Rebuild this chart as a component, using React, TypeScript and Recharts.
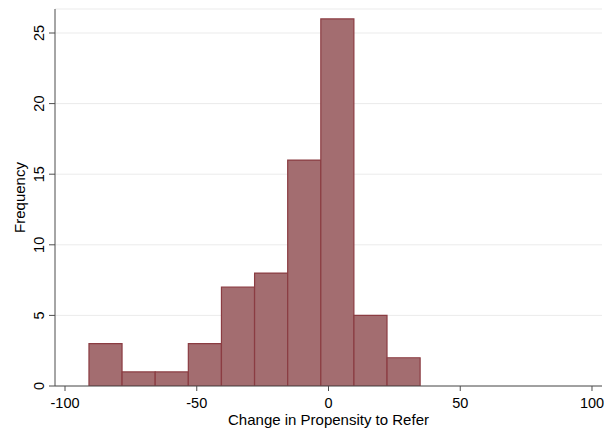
import { BarChart, Bar, XAxis, YAxis, CartesianGrid } from "recharts";

// bin centres and counts
const BIN_MIDS = [-84.62, -72.05, -59.48, -46.91, -34.34, -21.77, -9.2, 3.37, 15.94, 28.51];
const COUNTS = [3, 1, 1, 3, 7, 8, 16, 26, 5, 2];
const X_TICKS = [-100, -50, 0, 50, 100];
const Y_TICKS = [0, 5, 10, 15, 20, 25];

// a hair under the bin spacing, so recharts does not shrink the bars to 90%
const BIN_WIDTH = 12.55;
const X_DOMAIN: [number, number] = [-103.8, 103.8];
const Y_DOMAIN: [number, number] = [0, 26.7];

const W = 604;
const H = 433;
const MARGIN = { top: 9, right: 2, bottom: 0, left: 0 };
const Y_AXIS_W = 55;
const X_AXIS_H = 47;

const FONT = '"Liberation Sans", Arial, Helvetica, sans-serif';
const AXIS_COLOR = "#4d4d4d";

const data = BIN_MIDS.map((mid, i) => ({ mid, count: COUNTS[i] }));

const plotW = W - MARGIN.left - MARGIN.right - Y_AXIS_W;
const barPx = (BIN_WIDTH / (X_DOMAIN[1] - X_DOMAIN[0])) * plotW;

function YTick(props: any) {
  const { x, y, payload } = props;
  return (
    <text
      x={x}
      y={y}
      transform={`rotate(-90, ${x}, ${y})`}
      textAnchor="middle"
      fontSize={14.5}
      fontFamily={FONT}
      fill="#000"
    >
      {payload.value}
    </text>
  );
}

function XTick(props: any) {
  const { x, y, payload } = props;
  return (
    <text x={x} y={y} dy="0.71em" textAnchor="middle" fontSize={14.5} fontFamily={FONT} fill="#000">
      {payload.value}
    </text>
  );
}

export default function App() {
  return (
    <div style={{ position: "absolute", left: 0, top: 0, width: W, height: H, background: "#fff" }}>
      <BarChart width={W} height={H} data={data} margin={MARGIN} barCategoryGap={0} barGap={0}>
        <CartesianGrid horizontal vertical={false} stroke="#ebebeb" strokeWidth={1} />
        <XAxis
          type="number"
          dataKey="mid"
          domain={X_DOMAIN}
          ticks={X_TICKS}
          allowDataOverflow
          height={X_AXIS_H}
          tickSize={5}
          tickMargin={7}
          stroke={AXIS_COLOR}
          tick={<XTick />}
          label={({ viewBox }: any) => (
            <text
              x={viewBox.x + viewBox.width / 2}
              y={viewBox.y + 39}
              textAnchor="middle"
              fontSize={15}
              fontFamily={FONT}
              fill="#000"
            >
              Change in Propensity to Refer
            </text>
          )}
        />
        <YAxis
          type="number"
          domain={Y_DOMAIN}
          ticks={Y_TICKS}
          allowDataOverflow
          width={Y_AXIS_W}
          tickSize={6}
          tickMargin={5}
          stroke={AXIS_COLOR}
          tick={<YTick />}
          label={({ viewBox }: any) => {
            const cx = viewBox.x + 25;
            const cy = viewBox.y + viewBox.height / 2;
            return (
              <text
                x={cx}
                y={cy}
                transform={`rotate(-90, ${cx}, ${cy})`}
                textAnchor="middle"
                fontSize={15}
                fontFamily={FONT}
                fill="#000"
              >
                Frequency
              </text>
            );
          }}
        />
        <Bar
          dataKey="count"
          barSize={barPx}
          fill="#a36d70"
          stroke="#8b3c42"
          strokeWidth={1.2}
          isAnimationActive={false}
        />
      </BarChart>
    </div>
  );
}
